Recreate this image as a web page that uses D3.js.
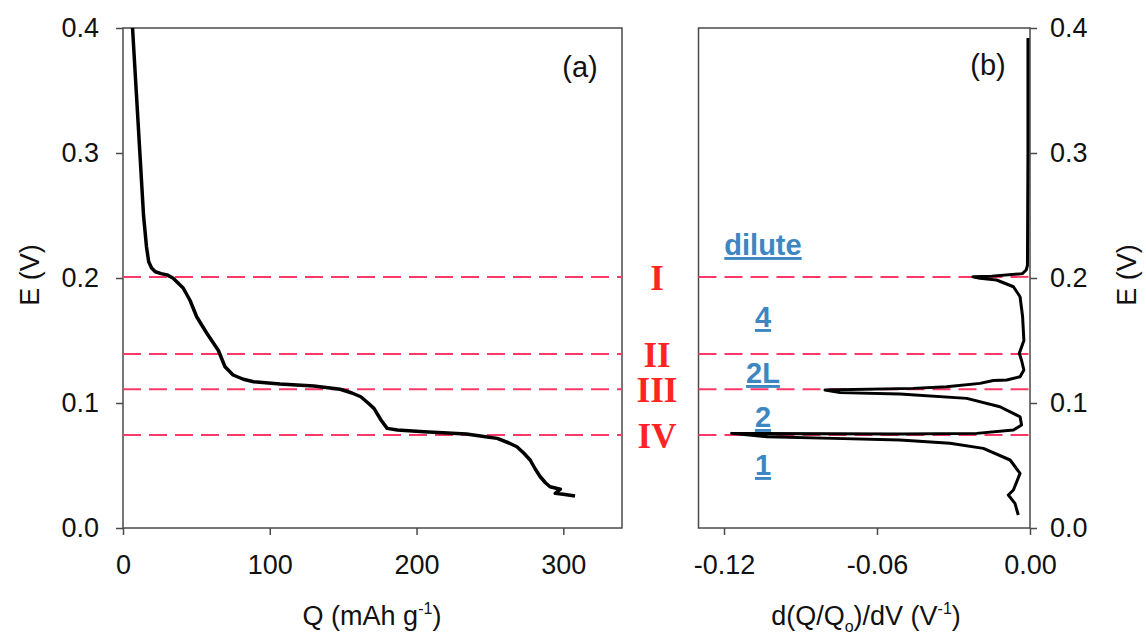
<!DOCTYPE html>
<html>
<head>
<meta charset="utf-8">
<script src="https://cdn.jsdelivr.net/npm/d3@7"></script>
<style>
  body { margin: 0; background: #fff; }
  svg text { font-family: "Liberation Sans", Arial, sans-serif; }
</style>
</head>
<body>
<div id="chart"></div>
<script>
// data
// panel (a): capacity Q (mAh/g) vs potential E (V)
var capQ = [6.5, 9, 11.5, 14, 16, 17.5, 19.5, 22, 26, 30, 34, 41, 45.7, 50.2, 57, 65, 69.5, 75, 82, 89, 107, 130, 148, 156, 162, 167, 171, 176, 180, 187, 205, 234, 247, 255, 263, 268.4, 273, 277.4, 281, 284.3, 288, 291, 298, 294.5, 300, 308];
var capE = [0.400, 0.350, 0.300, 0.250, 0.225, 0.213, 0.208, 0.205, 0.2035, 0.2025, 0.200, 0.192, 0.182, 0.169, 0.156, 0.142, 0.129, 0.1224, 0.119, 0.117, 0.1152, 0.1136, 0.111, 0.108, 0.105, 0.100, 0.0957, 0.086, 0.0797, 0.0784, 0.077, 0.0752, 0.073, 0.0717, 0.068, 0.065, 0.060, 0.0544, 0.047, 0.041, 0.036, 0.033, 0.031, 0.0277, 0.027, 0.0256];

// panel (b): differential capacity vs potential E (V)
var dqE = [0.392, 0.300, 0.210, 0.2064, 0.2035, 0.2015, 0.201, 0.1997, 0.1984, 0.193, 0.185, 0.169, 0.150, 0.1397, 0.134, 0.1264, 0.121, 0.1184, 0.118, 0.1157, 0.113, 0.1117, 0.1104, 0.1083, 0.1072, 0.1037, 0.097, 0.089, 0.0824, 0.0784, 0.0757, 0.0752, 0.0757, 0.073, 0.0717, 0.0704, 0.0678, 0.0637, 0.0544, 0.0437, 0.0304, 0.0264, 0.0197, 0.0104];
var dqVal = [-0.0008, -0.0008, -0.0010, -0.0015, -0.003, -0.015, -0.0224, -0.0196, -0.0131, -0.0065, -0.0039, -0.0029, -0.0024, -0.0042, -0.0033, -0.0024, -0.0039, -0.0091, -0.0144, -0.0196, -0.0327, -0.0458, -0.0804, -0.0745, -0.051, -0.0248, -0.0118, -0.0039, -0.0033, -0.0065, -0.0209, -0.051, -0.117, -0.1033, -0.0771, -0.051, -0.0314, -0.0183, -0.0078, -0.0039, -0.0065, -0.0085, -0.0059, -0.0046];

// stage boundaries and labels
var stageE = [0.2009, 0.1392, 0.111, 0.0744];
var stageNames = ["I", "II", "III", "IV"];
var phaseNames = ["dilute", "4", "2L", "2", "1"];
var phaseE = [0.2184, 0.1608, 0.116, 0.0808, 0.0424];

var eTicks = [0, 0.1, 0.2, 0.3, 0.4];
var qTicks = [0, 100, 200, 300];
var dTicks = [-0.12, -0.06, 0];

var svgWidth = 1146;
var svgHeight = 644;

var svg = d3.select("#chart")
  .append("svg")
  .attr("width", svgWidth)
  .attr("height", svgHeight);

// shared potential scale
var yScale = d3.scaleLinear().domain([0, 0.4]).range([528, 28]);

var xLeft = d3.scaleLinear().domain([0, 340]).range([123, 622]);
var xRight = d3.scaleLinear().domain([-0.13, 0]).range([698.5, 1030]);

var axisColor = "#4a4a4a";
var dashColor = "#ff3868";

// frames
function frame(x) {
  svg.append("rect")
    .attr("x", x.range()[0])
    .attr("y", yScale(0.4))
    .attr("width", x.range()[1] - x.range()[0])
    .attr("height", yScale(0) - yScale(0.4))
    .attr("fill", "none")
    .attr("stroke", axisColor)
    .attr("stroke-width", 1.5);
}
frame(xLeft);
frame(xRight);

function styleAxis(g) {
  g.select(".domain").remove();
  g.selectAll(".tick line").attr("stroke", axisColor).attr("stroke-width", 1.5);
  g.selectAll(".tick text")
    .attr("fill", "#111")
    .style("font-size", "27px");
}

// axes
svg.append("g")
  .attr("transform", "translate(123,0)")
  .call(d3.axisLeft(yScale).tickValues(eTicks).tickSize(7).tickPadding(17).tickFormat(d => d.toFixed(1)))
  .call(styleAxis);

svg.append("g")
  .attr("transform", "translate(1030,0)")
  .call(d3.axisRight(yScale).tickValues(eTicks).tickSize(7).tickPadding(13).tickFormat(d => d.toFixed(1)))
  .call(styleAxis);

svg.append("g")
  .attr("transform", "translate(0,528)")
  .call(d3.axisBottom(xLeft).tickValues(qTicks).tickSize(7).tickPadding(20))
  .call(styleAxis);

svg.append("g")
  .attr("transform", "translate(0,528)")
  .call(d3.axisBottom(xRight).tickValues(dTicks).tickSize(7).tickPadding(20).tickFormat(d => d.toFixed(2)))
  .call(styleAxis);

// dashed stage lines
[xLeft, xRight].forEach(function (x) {
  svg.selectAll(null)
    .data(stageE)
    .enter()
    .append("line")
    .attr("x1", x.range()[0])
    .attr("x2", x.range()[1])
    .attr("y1", d => yScale(d))
    .attr("y2", d => yScale(d))
    .attr("stroke", dashColor)
    .attr("stroke-width", 2)
    .attr("stroke-dasharray", "18,8");
});

// curves
var leftData = capQ.map((q, i) => [q, capE[i]]);
var rightData = dqVal.map((v, i) => [v, dqE[i]]);

svg.append("path")
  .datum(leftData)
  .attr("fill", "none")
  .attr("stroke", "#000")
  .attr("stroke-width", 3.5)
  .attr("stroke-linejoin", "round")
  .attr("d", d3.line().x(d => xLeft(d[0])).y(d => yScale(d[1])));

svg.append("path")
  .datum(rightData)
  .attr("fill", "none")
  .attr("stroke", "#000")
  .attr("stroke-width", 3)
  .attr("stroke-linejoin", "round")
  .attr("d", d3.line().x(d => xRight(d[0])).y(d => yScale(d[1])));

// roman numerals between the panels
svg.selectAll(null)
  .data(stageNames)
  .enter()
  .append("text")
  .attr("x", 657)
  .attr("y", (d, i) => yScale(stageE[i]) + 13)
  .attr("text-anchor", "middle")
  .style("font-family", "'Liberation Serif', 'Times New Roman', serif")
  .style("font-weight", "bold")
  .style("font-size", "35px")
  .attr("fill", "#ff2424")
  .text(d => d);

// phase labels (underlined)
svg.selectAll(null)
  .data(phaseNames)
  .enter()
  .append("text")
  .attr("x", 763)
  .attr("y", (d, i) => yScale(phaseE[i]))
  .attr("text-anchor", "middle")
  .style("font-weight", "bold")
  .style("font-size", "29px")
  .style("text-decoration", "underline")
  .attr("fill", "#3c86c2")
  .text(d => d);

// panel tags
svg.append("text")
  .attr("x", 580)
  .attr("y", 77)
  .attr("text-anchor", "middle")
  .style("font-size", "29px")
  .attr("fill", "#111")
  .text("(a)");

svg.append("text")
  .attr("x", 988)
  .attr("y", 75)
  .attr("text-anchor", "middle")
  .style("font-size", "29px")
  .attr("fill", "#111")
  .text("(b)");

// axis titles
svg.append("text")
  .attr("transform", "translate(30,275) rotate(-90)")
  .attr("text-anchor", "middle")
  .attr("dominant-baseline", "central")
  .style("font-size", "27px")
  .attr("fill", "#111")
  .text("E (V)");

svg.append("text")
  .attr("transform", "translate(1127,275) rotate(-90)")
  .attr("text-anchor", "middle")
  .attr("dominant-baseline", "central")
  .style("font-size", "27px")
  .attr("fill", "#111")
  .text("E (V)");

var qTitle = svg.append("text")
  .attr("x", 372)
  .attr("y", 625)
  .attr("text-anchor", "middle")
  .style("font-size", "27px")
  .attr("fill", "#111");
qTitle.append("tspan").text("Q (mAh g");
qTitle.append("tspan").attr("dy", -11).style("font-size", "16px").text("-1");
qTitle.append("tspan").attr("dy", 11).text(")");

var dTitle = svg.append("text")
  .attr("x", 866)
  .attr("y", 625)
  .attr("text-anchor", "middle")
  .style("font-size", "27px")
  .attr("fill", "#111");
dTitle.append("tspan").text("d(Q/Q");
dTitle.append("tspan").attr("dy", 7).style("font-size", "16px").text("o");
dTitle.append("tspan").attr("dy", -7).text(")/dV (V");
dTitle.append("tspan").attr("dy", -11).style("font-size", "16px").text("-1");
dTitle.append("tspan").attr("dy", 11).text(")");
</script>
</body>
</html>
